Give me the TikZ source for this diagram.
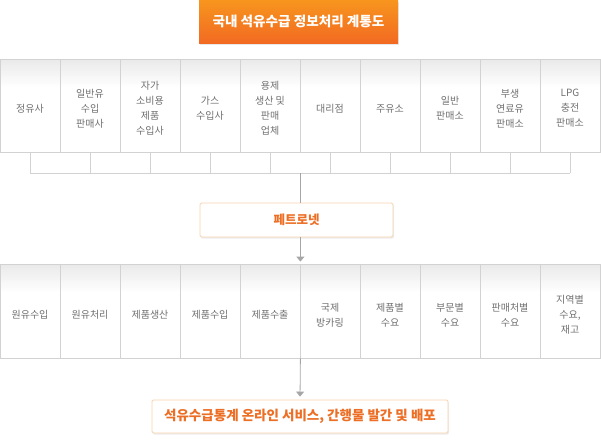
\documentclass[tikz,border=0pt]{standalone}
\usepackage{fontspec}
\setmainfont{Noto Sans CJK KR}
\usetikzlibrary{arrows.meta,shadows,calc}
\definecolor{bordergray}{HTML}{D2D2D2}
\definecolor{txtgray}{HTML}{707070}
\definecolor{orTop}{HTML}{F7951E}
\definecolor{orBot}{HTML}{F26A22}
\definecolor{orText}{HTML}{EC6F25}
\definecolor{orBorder}{HTML}{F7D3AF}
\definecolor{lineGray}{HTML}{A6A6A6}
\definecolor{topShade}{HTML}{EAEAEA}
\begin{document}
\begin{tikzpicture}[x=1pt,y=-1pt,
  colbox/.style={draw=bordergray, line width=0.8pt, minimum width=60pt, minimum height=#1,
    inner sep=0pt,
    path picture={\foreach \k in {0,...,13}
      \fill[topShade, opacity={1-\k/14}]
      ($(path picture bounding box.north west)+(0,2*\k)$) rectangle ($(path picture bounding box.north east)+(0,2*\k+2)$);}},
  lab/.style={text=txtgray, align=center, font=\fontsize{10}{15}\selectfont, inner sep=0pt},
  strip/.style={draw=bordergray, line width=0.8pt},
  conn/.style={draw=lineGray, line width=0.8pt},
  arr/.style={conn, -{Triangle[width=8pt,length=5pt]}},
  titlebox/.style={top color=orTop, bottom color=orBot, draw=none, text=white,
    font=\fontsize{13.6}{15}\selectfont\bfseries, minimum width=199pt, minimum height=43pt,
    drop shadow={shadow xshift=1pt, shadow yshift=-1.5pt, opacity=0.18, fill=gray}},
  subbox/.style={fill=white, draw=orBorder, line width=0.8pt, rounded corners=1.5pt, text=orText,
    font=\fontsize{12.5}{15}\selectfont\bfseries,
    drop shadow={shadow xshift=1pt, shadow yshift=-1.5pt, opacity=0.15, fill=gray}}
]
\useasboundingbox (0,0) rectangle (601,439);

% title
\node[titlebox] (title) at (298.5,21.5) {국내 석유수급 정보처리 계통도};

% top row
\foreach \i/\lab in {1/정유사, 2/{일반유\\수입\\판매사}, 3/{자가\\소비용\\제품\\수입사}, 4/{가스\\수입사},
  5/{용제\\생산 및\\판매\\업체}, 6/대리점, 7/주유소, 8/{일반\\판매소}, 9/{부생\\연료유\\판매소}, 10/{LPG\\충전\\판매소}}
  \node[colbox=93pt, label={[lab, yshift=-3pt]center:\lab}] (t\i) at ({30+60*(\i-1)},105.5) {};

% bottom row
\foreach \i/\lab in {1/원유수입, 2/원유처리, 3/제품생산, 4/제품수입, 5/제품수출, 6/{국제\\방카링},
  7/{제품별\\수요}, 8/{부문별\\수요}, 9/{판매처별\\수요}, 10/{지역별\\수요,\\재고}}
  \node[colbox=94pt, label={[lab, yshift=-4pt]center:\lab}] (b\i) at ({30+60*(\i-1)},311) {};

% collecting strip
\foreach \i in {1,...,10} {
  \coordinate (s\i) at ($(t\i.south)+(0,21)$);
  \draw[strip] (t\i.south) -- (s\i);
}
\draw[strip] (s1) -- (s10);
\coordinate (hub) at ($(t5.south east)+(0,21)$);

% Petronet
\node[subbox, minimum width=193pt, minimum height=34pt] (pn) at (296.5,220) {페트로넷};
\draw[conn] (hub) -- (hub |- pn.north);
\draw[arr, shorten >=2pt] (hub |- pn.south) -- (b5.north east);

% output
\node[subbox, minimum width=296pt, minimum height=33pt, font=\fontsize{13.5}{15}\selectfont\bfseries] (out) at (300,416.5) {석유수급통계 온라인 서비스, 간행물 발간 및 배포};
\draw[arr, shorten >=3pt] (b5.south east) -- (out.north);
\end{tikzpicture}
\end{document}
